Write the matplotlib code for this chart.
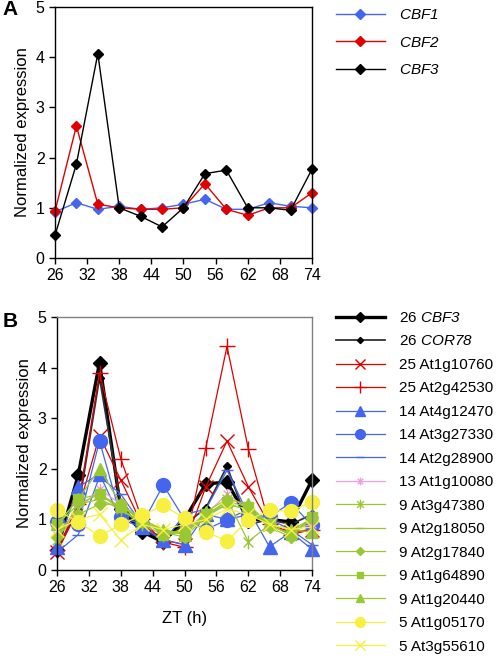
import matplotlib
matplotlib.use('Agg')
import matplotlib.pyplot as plt
from matplotlib.path import Path

plt.rcParams['font.family'] = ['Liberation Sans', 'DejaVu Sans']
plt.rcParams['mathtext.fontset'] = 'custom'
# só os nomes de genes usam mathtext, todos em itálico
plt.rcParams['mathtext.rm'] = 'Liberation Sans:italic'
plt.rcParams['mathtext.it'] = 'Liberation Sans:italic'

# Dados
zt = [26, 30, 34, 38, 42, 46, 50, 54, 58, 62, 66, 70, 74]
xticks = [26, 32, 38, 44, 50, 56, 62, 68, 74]
yticks = [0, 1, 2, 3, 4, 5]

# Painel A
cbf1 = [0.92, 1.10, 0.97, 1.03, 0.97, 1.00, 1.07, 1.17, 0.97, 0.97, 1.10, 1.03, 1.00]
cbf2 = [0.93, 2.63, 1.07, 1.00, 0.97, 0.97, 1.00, 1.48, 0.97, 0.85, 1.00, 1.00, 1.30]
cbf3 = [0.45, 1.87, 4.07, 1.00, 0.83, 0.62, 1.00, 1.68, 1.75, 1.00, 1.00, 0.95, 1.77]

# Painel B
b_cbf3 = [0.40, 1.88, 4.10, 1.20, 0.76, 0.55, 1.00, 1.70, 1.74, 1.00, 1.00, 0.95, 1.78]
b_cor78 = [0.40, 1.20, 3.80, 1.30, 0.80, 0.60, 0.90, 1.22, 2.05, 0.90, 1.00, 0.90, 1.10]
at1g10760 = [0.35, 1.20, 2.65, 1.78, 0.90, 0.60, 0.50, 1.64, 2.55, 1.65, 0.90, 0.75, 0.80]
at2g42530 = [0.40, 1.30, 3.90, 2.20, 1.00, 0.55, 0.45, 2.41, 4.42, 2.40, 0.90, 0.70, 0.80]
at4g12470 = [0.45, 1.64, 1.90, 1.00, 0.85, 0.60, 0.50, 1.10, 1.00, 1.20, 0.46, 0.75, 0.41]
at3g27330 = [0.95, 0.90, 2.55, 1.05, 0.90, 1.68, 1.00, 0.80, 0.99, 1.10, 1.05, 1.33, 0.88]
at2g28900 = [0.35, 0.70, 1.85, 1.50, 0.90, 0.55, 1.10, 1.20, 1.97, 1.10, 1.00, 0.80, 0.50]
at1g10080 = [0.70, 1.20, 1.60, 1.30, 1.00, 0.70, 0.80, 1.10, 1.50, 1.20, 0.90, 0.80, 0.90]
at3g47380 = [0.60, 1.30, 1.50, 1.20, 0.90, 0.70, 0.80, 1.00, 1.40, 0.56, 0.90, 0.70, 1.00]
at2g18050 = [0.90, 1.30, 1.40, 1.20, 0.95, 0.80, 0.70, 1.10, 1.30, 1.20, 0.90, 0.80, 1.00]
at2g17840 = [0.65, 1.10, 1.30, 1.30, 0.95, 0.75, 0.65, 1.05, 1.30, 1.20, 0.85, 0.65, 1.05]
at1g64890 = [0.90, 1.40, 1.50, 1.25, 1.00, 0.70, 0.75, 1.10, 1.35, 1.25, 0.90, 0.70, 1.05]
at1g20440 = [0.90, 1.40, 2.00, 1.30, 1.00, 0.80, 0.70, 1.15, 1.40, 1.30, 0.90, 0.80, 0.75]
at1g05170 = [1.18, 0.95, 0.67, 0.90, 1.08, 1.28, 1.02, 0.76, 0.57, 0.99, 1.18, 1.16, 1.35]
at3g55610 = [0.80, 1.00, 1.10, 0.59, 0.90, 0.80, 0.90, 1.00, 1.20, 1.10, 0.90, 0.80, 0.85]

azul = '#4466EE'
vermelho = '#E00000'
amarelo = '#F8F040'
verde = '#99C833'
rosa = '#F0A0D8'

# marcador estrela estilo Excel (x com traço vertical)
estrela = Path([(0, -1), (0, 1), (-0.7, -0.7), (0.7, 0.7), (-0.7, 0.7), (0.7, -0.7)],
               [Path.MOVETO, Path.LINETO] * 3)

fig = plt.figure(figsize=(4.98, 6.59), dpi=100)
axA = fig.add_axes([0.1104, 0.6085, 0.5161, 0.3809])
axB = fig.add_axes([0.1145, 0.1350, 0.5120, 0.3840])

# ---- Painel A
axA.plot(zt, cbf1, color=azul, marker='D', ms=4.7, lw=1, label='$CBF1$')
axA.plot(zt, cbf2, color=vermelho, marker='D', ms=4.7, lw=1, label='$CBF2$')
axA.plot(zt, cbf3, color='black', marker='D', ms=4.7, lw=1, label='$CBF3$')
axA.legend(loc='upper left', bbox_to_anchor=(1.04, 1.05), frameon=False, fontsize=11,
           handlelength=3.2, labelspacing=0.88, handletextpad=0.9)

# ---- Painel B
series = [
    (b_cbf3, '26 $CBF3$', 'black', 'black', 'D', 7, 2.4),
    (b_cor78, '26 $COR78$', '#333333', 'black', 'D', 4.5, 1.3),
    (at1g10760, '25 At1g10760', vermelho, vermelho, 'x', 10, 0.9),
    (at2g42530, '25 At2g42530', vermelho, vermelho, '+', 12, 0.9),
    (at4g12470, '14 At4g12470', azul, azul, '^', 10, 0.9),
    (at3g27330, '14 At3g27330', azul, azul, 'o', 10, 0.9),
    (at2g28900, '14 At2g28900', azul, azul, '_', 9, 0.9),
    (at1g10080, '13 At1g10080', rosa, rosa, estrela, 8, 0.9),
    (at3g47380, '9 At3g47380', verde, verde, estrela, 10, 0.9),
    (at2g18050, '9 At2g18050', verde, verde, '_', 9, 0.9),
    (at2g17840, '9 At2g17840', verde, verde, 'D', 6, 0.9),
    (at1g64890, '9 At1g64890', verde, verde, 's', 7, 0.9),
    (at1g20440, '9 At1g20440', verde, verde, '^', 9, 0.9),
    (at1g05170, '5 At1g05170', amarelo, amarelo, 'o', 10, 0.9),
    (at3g55610, '5 At3g55610', amarelo, amarelo, 'x', 10, 0.9),
]
for vals, lab, cor, cor_mk, mk, ms, lw in series:
    axB.plot(zt, vals, color=cor, marker=mk, ms=ms, lw=lw, mew=1.0,
             mec=cor_mk, mfc=cor_mk, label=lab)
axB.legend(loc='upper left', bbox_to_anchor=(1.04, 1.078), frameon=False, fontsize=11,
           handlelength=3.2, labelspacing=0.62, handletextpad=0.9, markerscale=0.7)
axB.set_xlabel('ZT (h)', fontsize=12, labelpad=11)

for ax, borda in ((axA, 'black'), (axB, '#808080')):
    ax.set_xlim(26, 74)
    ax.set_ylim(0, 5)
    ax.set_xticks(xticks)
    ax.set_yticks(yticks)
    ax.tick_params(direction='out', length=4, labelsize=11.5, width=1)
    ax.set_ylabel('Normalized expression', fontsize=12)
    ax.spines['top'].set_color(borda)
    ax.spines['right'].set_color(borda)
    for s in ax.spines.values():
        s.set_linewidth(1)
    for ln in ax.lines:
        ln.set_clip_on(False)

fig.text(0.005, 0.985, 'A', fontsize=15, fontweight='bold', va='center')
fig.text(0.005, 0.512, 'B', fontsize=15, fontweight='bold', va='center')

fig.savefig('out.png', dpi=100)
